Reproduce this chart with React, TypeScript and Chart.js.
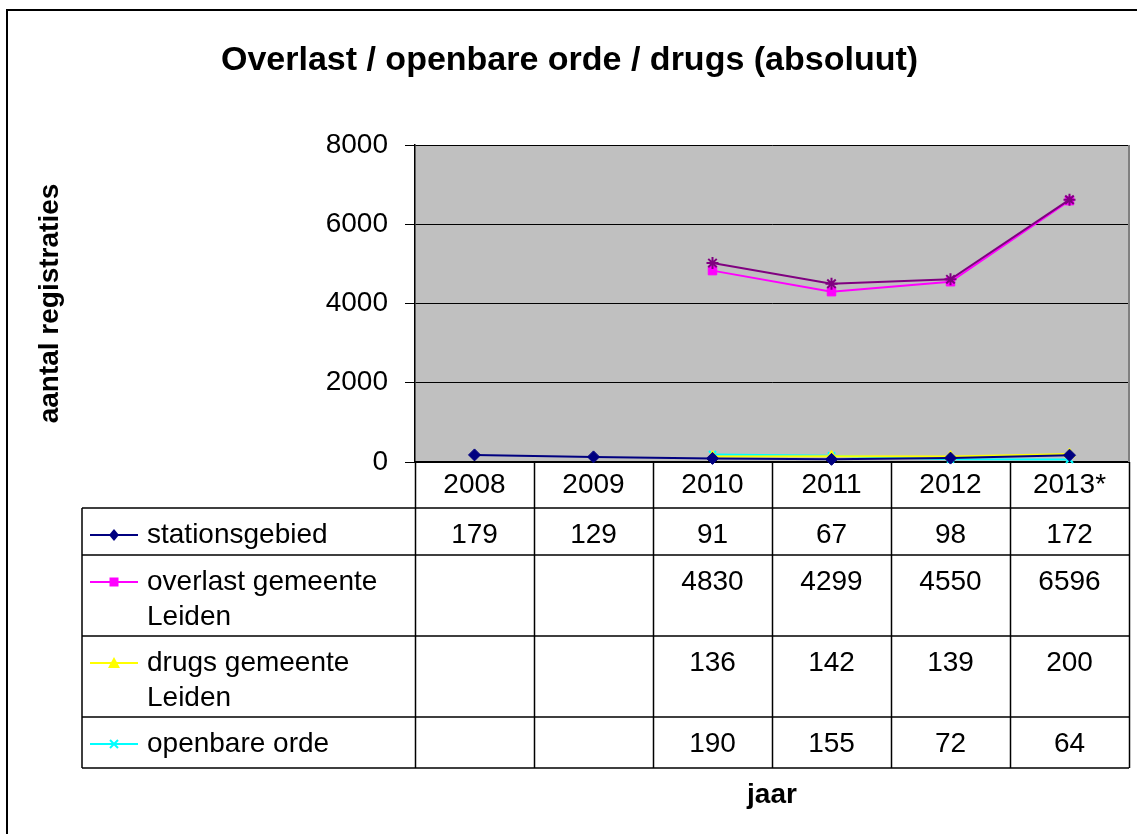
import React, { useEffect, useRef } from "react";
import { Chart, registerables } from "chart.js";

Chart.register(...registerables);

// ---------- data ----------
const years = ["2008", "2009", "2010", "2011", "2012", "2013*"];
const stationsgebied = [179, 129, 91, 67, 98, 172];
const overlastGemeente = [null, null, 4830, 4299, 4550, 6596];
const drugsGemeente = [null, null, 136, 142, 139, 200];
const openbareOrde = [null, null, 190, 155, 72, 64];
// unlabelled series (no row in the table)
const totaalReeks = [null, null, 5020, 4500, 4610, 6620];
const yTickValues = [0, 2000, 4000, 6000, 8000];

const seriesLabels = [
  ["stationsgebied"],
  ["overlast gemeente", "Leiden"],
  ["drugs gemeente", "Leiden"],
  ["openbare orde"],
];

const titleText = "Overlast / openbare orde / drugs (absoluut)";
const yTitle = "aantal registraties";
const xTitle = "jaar";

// ---------- styles ----------
const FONT = "'Liberation Sans', Arial, sans-serif";
const COLORS = ["#000080", "#FF00FF", "#FFFF00", "#00FFFF", "#800080"];
const MARKERS = ["rectRot", "rect", "triangle", "crossRot", "star"];
const PLOT_BG = "#C0C0C0";
const ROW_H = [46, 47, 81, 81, 51];
const TABLE_LEFT = 82;
const FIRST_LINE = 27;
const LINE_GAP = 35;

function drawMarker(ctx: CanvasRenderingContext2D, style: string, x: number, y: number, color: string) {
  ctx.save();
  ctx.fillStyle = color;
  ctx.strokeStyle = color;
  ctx.lineWidth = 2;
  ctx.beginPath();
  if (style === "rectRot") {
    ctx.moveTo(x, y - 6);
    ctx.lineTo(x + 5, y);
    ctx.lineTo(x, y + 6);
    ctx.lineTo(x - 5, y);
    ctx.closePath();
    ctx.fill();
  } else if (style === "rect") {
    ctx.rect(x - 4.5, y - 4.5, 9, 9);
    ctx.fill();
  } else if (style === "triangle") {
    ctx.moveTo(x, y - 6);
    ctx.lineTo(x + 6, y + 5);
    ctx.lineTo(x - 6, y + 5);
    ctx.closePath();
    ctx.fill();
  } else if (style === "crossRot") {
    ctx.moveTo(x - 4, y - 4);
    ctx.lineTo(x + 4, y + 4);
    ctx.moveTo(x + 4, y - 4);
    ctx.lineTo(x - 4, y + 4);
    ctx.stroke();
  }
  ctx.restore();
}

const tablePlugin = {
  id: "dataTable",
  beforeDraw(chart: any) {
    const { ctx, chartArea: a } = chart;
    ctx.save();
    ctx.fillStyle = PLOT_BG;
    ctx.fillRect(a.left, a.top, a.right - a.left, a.bottom - a.top);
    ctx.restore();
  },
  afterDraw(chart: any) {
    const { ctx, chartArea: a } = chart;
    const xs = chart.scales.x;
    const n = years.length;
    const band = (a.right - a.left) / n;
    const tableData = [stationsgebied, overlastGemeente, drugsGemeente, openbareOrde];

    ctx.save();
    // outer frame
    ctx.strokeStyle = "#000";
    ctx.lineWidth = 2;
    ctx.strokeRect(7, 10, chart.width + 40, chart.height + 40);

    // plot right border
    ctx.strokeStyle = "#808080";
    ctx.lineWidth = 2;
    ctx.beginPath();
    ctx.moveTo(a.right, a.top);
    ctx.lineTo(a.right, a.bottom);
    ctx.stroke();

    // table grid
    const rowTops: number[] = [];
    let y = a.bottom;
    for (const h of ROW_H) {
      rowTops.push(y);
      y += h;
    }
    const bottom = y;
    ctx.strokeStyle = "#000";
    ctx.lineWidth = 1.5;
    ctx.beginPath();
    for (let i = 0; i <= n; i++) {
      const x = Math.round(a.left + i * band) + 0.5;
      ctx.moveTo(x, a.bottom);
      ctx.lineTo(x, bottom);
    }
    ctx.moveTo(TABLE_LEFT, rowTops[1]);
    ctx.lineTo(TABLE_LEFT, bottom);
    for (let r = 1; r < rowTops.length; r++) {
      ctx.moveTo(TABLE_LEFT, rowTops[r]);
      ctx.lineTo(a.right, rowTops[r]);
    }
    ctx.moveTo(TABLE_LEFT, bottom);
    ctx.lineTo(a.right, bottom);
    ctx.stroke();

    // rows
    ctx.font = `28px ${FONT}`;
    ctx.fillStyle = "#000";
    ctx.textBaseline = "middle";
    for (let s = 0; s < tableData.length; s++) {
      const top = rowTops[s + 1];
      const ly = top + FIRST_LINE;
      // legend key
      ctx.save();
      ctx.strokeStyle = COLORS[s];
      ctx.lineWidth = 2;
      ctx.beginPath();
      ctx.moveTo(90, ly);
      ctx.lineTo(138, ly);
      ctx.stroke();
      ctx.restore();
      drawMarker(ctx, MARKERS[s], 114, ly, COLORS[s]);
      ctx.textAlign = "left";
      seriesLabels[s].forEach((line, k) => {
        ctx.fillText(line, 147, ly + k * LINE_GAP);
      });
      ctx.textAlign = "center";
      tableData[s].forEach((v, i) => {
        if (v === null) return;
        ctx.fillText(String(v), xs.getPixelForValue(i), ly);
      });
    }
    ctx.restore();
  },
};

export default function App() {
  const ref = useRef<HTMLCanvasElement>(null);
  useEffect(() => {
    document.body.style.margin = "0";
    const ds = (label: string, data: any[], i: number, radius: number) => ({
      label,
      data,
      borderColor: COLORS[i],
      backgroundColor: COLORS[i],
      pointBackgroundColor: COLORS[i],
      pointBorderColor: COLORS[i],
      pointStyle: MARKERS[i],
      pointRadius: radius,
      pointBorderWidth: i === 3 || i === 4 ? 2 : 1,
      borderWidth: 2,
      tension: 0,
      clip: 10,
    });
    const chart = new Chart(ref.current as HTMLCanvasElement, {
      type: "line",
      data: {
        labels: years,
        datasets: [
          ds("totaal", totaalReeks, 4, 6),
          ds("stationsgebied", stationsgebied, 0, 6),
          ds("overlast gemeente Leiden", overlastGemeente, 1, 6),
          ds("drugs gemeente Leiden", drugsGemeente, 2, 6),
          ds("openbare orde", openbareOrde, 3, 5),
        ],
      },
      options: {
        animation: false,
        responsive: false,
        events: [],
        layout: { padding: { left: 4, top: 10, right: 2, bottom: 0 } },
        plugins: {
          legend: { display: false },
          tooltip: { enabled: false },
          title: {
            display: true,
            text: titleText,
            color: "#000",
            font: { family: FONT, size: 34, weight: "bold" },
            padding: { top: 30, bottom: 64.2 },
          },
        },
        scales: {
          x: {
            type: "category",
            offset: true,
            grid: { display: false, drawTicks: false },
            border: { display: true, color: "#000", width: 1.5 },
            ticks: { color: "#000", font: { family: FONT, size: 28 }, padding: 6, maxRotation: 0 },
            title: {
              display: true,
              text: xTitle,
              color: "#000",
              font: { family: FONT, size: 28, weight: "bold" },
              padding: { top: 0, bottom: 22 },
            },
            afterFit: (s: any) => {
              s.height = 372;
            },
          },
          y: {
            min: 0,
            max: 8000,
            afterBuildTicks: (s: any) => {
              s.ticks = yTickValues.map((v) => ({ value: v }));
            },
            grid: { color: "#000", lineWidth: 1, tickLength: 10, drawTicks: true },
            border: { display: true, color: "#000", width: 1.5 },
            ticks: {
              color: "#000",
              font: { family: FONT, size: 28 },
              padding: 17,
              callback: (v: any) => String(v),
            },
            title: {
              display: true,
              text: yTitle,
              color: "#000",
              font: { family: FONT, size: 28, weight: "bold" },
              padding: { top: 29, bottom: 0 },
            },
            afterFit: (s: any) => {
              s.width = 411;
            },
          },
        },
      },
      plugins: [tablePlugin],
    } as any);
    return () => chart.destroy();
  }, []);
  return (
    <div style={{ width: 1137, height: 834 }}>
      <canvas ref={ref} width={1137} height={834} style={{ display: "block" }} />
    </div>
  );
}
